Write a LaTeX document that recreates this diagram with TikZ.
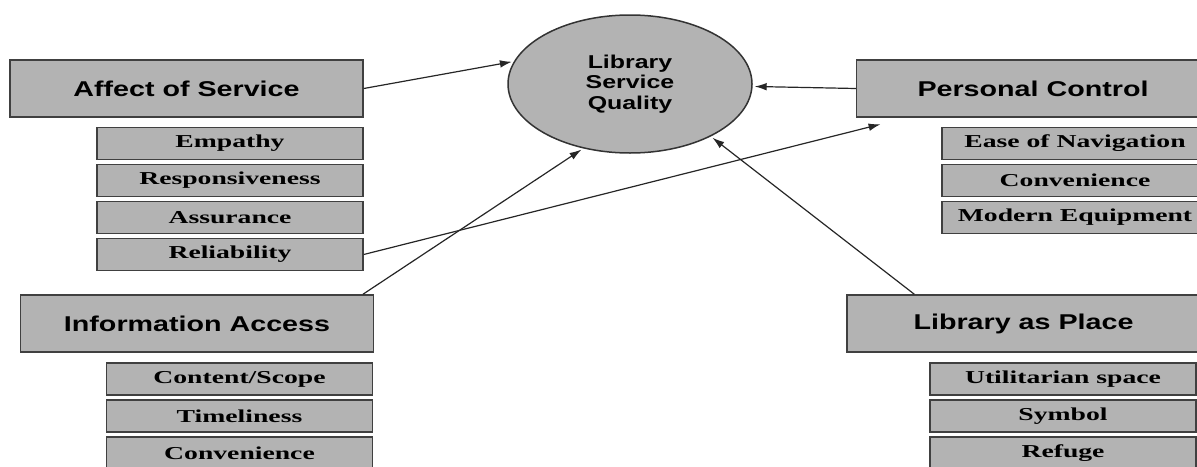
\documentclass[tikz,border=0pt]{standalone}
\usepackage{fontspec}
\usetikzlibrary{arrows.meta,shapes.geometric}
\newfontfamily\headfont{Liberation Sans}[FakeStretch=1.34]
\newfontfamily\itemfont{Liberation Serif}[FakeStretch=1.52]
\definecolor{boxgray}{RGB}{179,179,179}

\begin{document}
\begin{tikzpicture}[->,>={Latex[length=6pt,width=3.8pt]},shorten >=1pt,x=0.5pt,y=-0.5pt,
        node distance=18.5pt,
        factor/.style={draw=black!75,line width=0.75pt,fill=boxgray,minimum width=176.5pt,
            minimum height=28.5pt,inner sep=0pt,font=\headfont\bfseries\fontsize{10.7}{12}\selectfont},
        item/.style={draw=black!75,line width=0.75pt,fill=boxgray,minimum width=133pt,
            minimum height=16pt,inner sep=0pt,font=\itemfont\bfseries\fontsize{9.1}{11}\selectfont},
        quality/.style={ellipse,draw=black!80,line width=0.75pt,fill=boxgray,minimum width=122pt,
            minimum height=69pt,inner sep=0pt,align=center,font=\headfont\bfseries\fontsize{9.3}{10.3}\selectfont},
        every edge/.style={draw,black!85,line width=0.6pt}]

    \useasboundingbox (0,0) rectangle (1197,466);
    \clip (0,0) rectangle (1197,466);

    \node[quality] (lsq) at (630,84) {Library\\Service\\Quality};

    \node[factor] (aff) at (186.5,88.5) {Affect of Service};
    \node[item] (emp) at (230,143.5) {Empathy};
    \node[item] (resp) [below of=emp] {Responsiveness};
    \node[item] (ass) [below of=resp] {Assurance};
    \node[item] (rel) [below of=ass] {Reliability};

    \node[factor] (pc) at (1033,88.5) {Personal Control};
    \node[item] (nav) at (1075,143.5) {Ease of Navigation};
    \node[item] (pcconv) [below of=nav] {Convenience};
    \node[item] (equip) [below of=pcconv] {Modern Equipment};

    \node[factor] (ia) at (197,323.5) {Information Access};
    \node[item] (scope) at (239.5,379) {Content/Scope};
    \node[item] (time) [below of=scope] {Timeliness};
    \node[item] (iaconv) [below of=time] {Convenience};

    \node[factor] (lap) at (1023.5,323.5) {Library as Place};
    \node[item] (util) at (1063,379) {Utilitarian space};
    \node[item] (sym) [below of=util] {Symbol};
    \node[item] (refuge) [below of=sym] {Refuge};

    \path (aff.east) edge (lsq.169);
    \path (pc.west) edge (lsq);
    \path (rel.east) edge ([yshift=-3pt]pc.191);
    \path (ia.10) edge (lsq.234);
    \path (lap.165) edge (lsq.327);

    \end{tikzpicture}
\end{document}
